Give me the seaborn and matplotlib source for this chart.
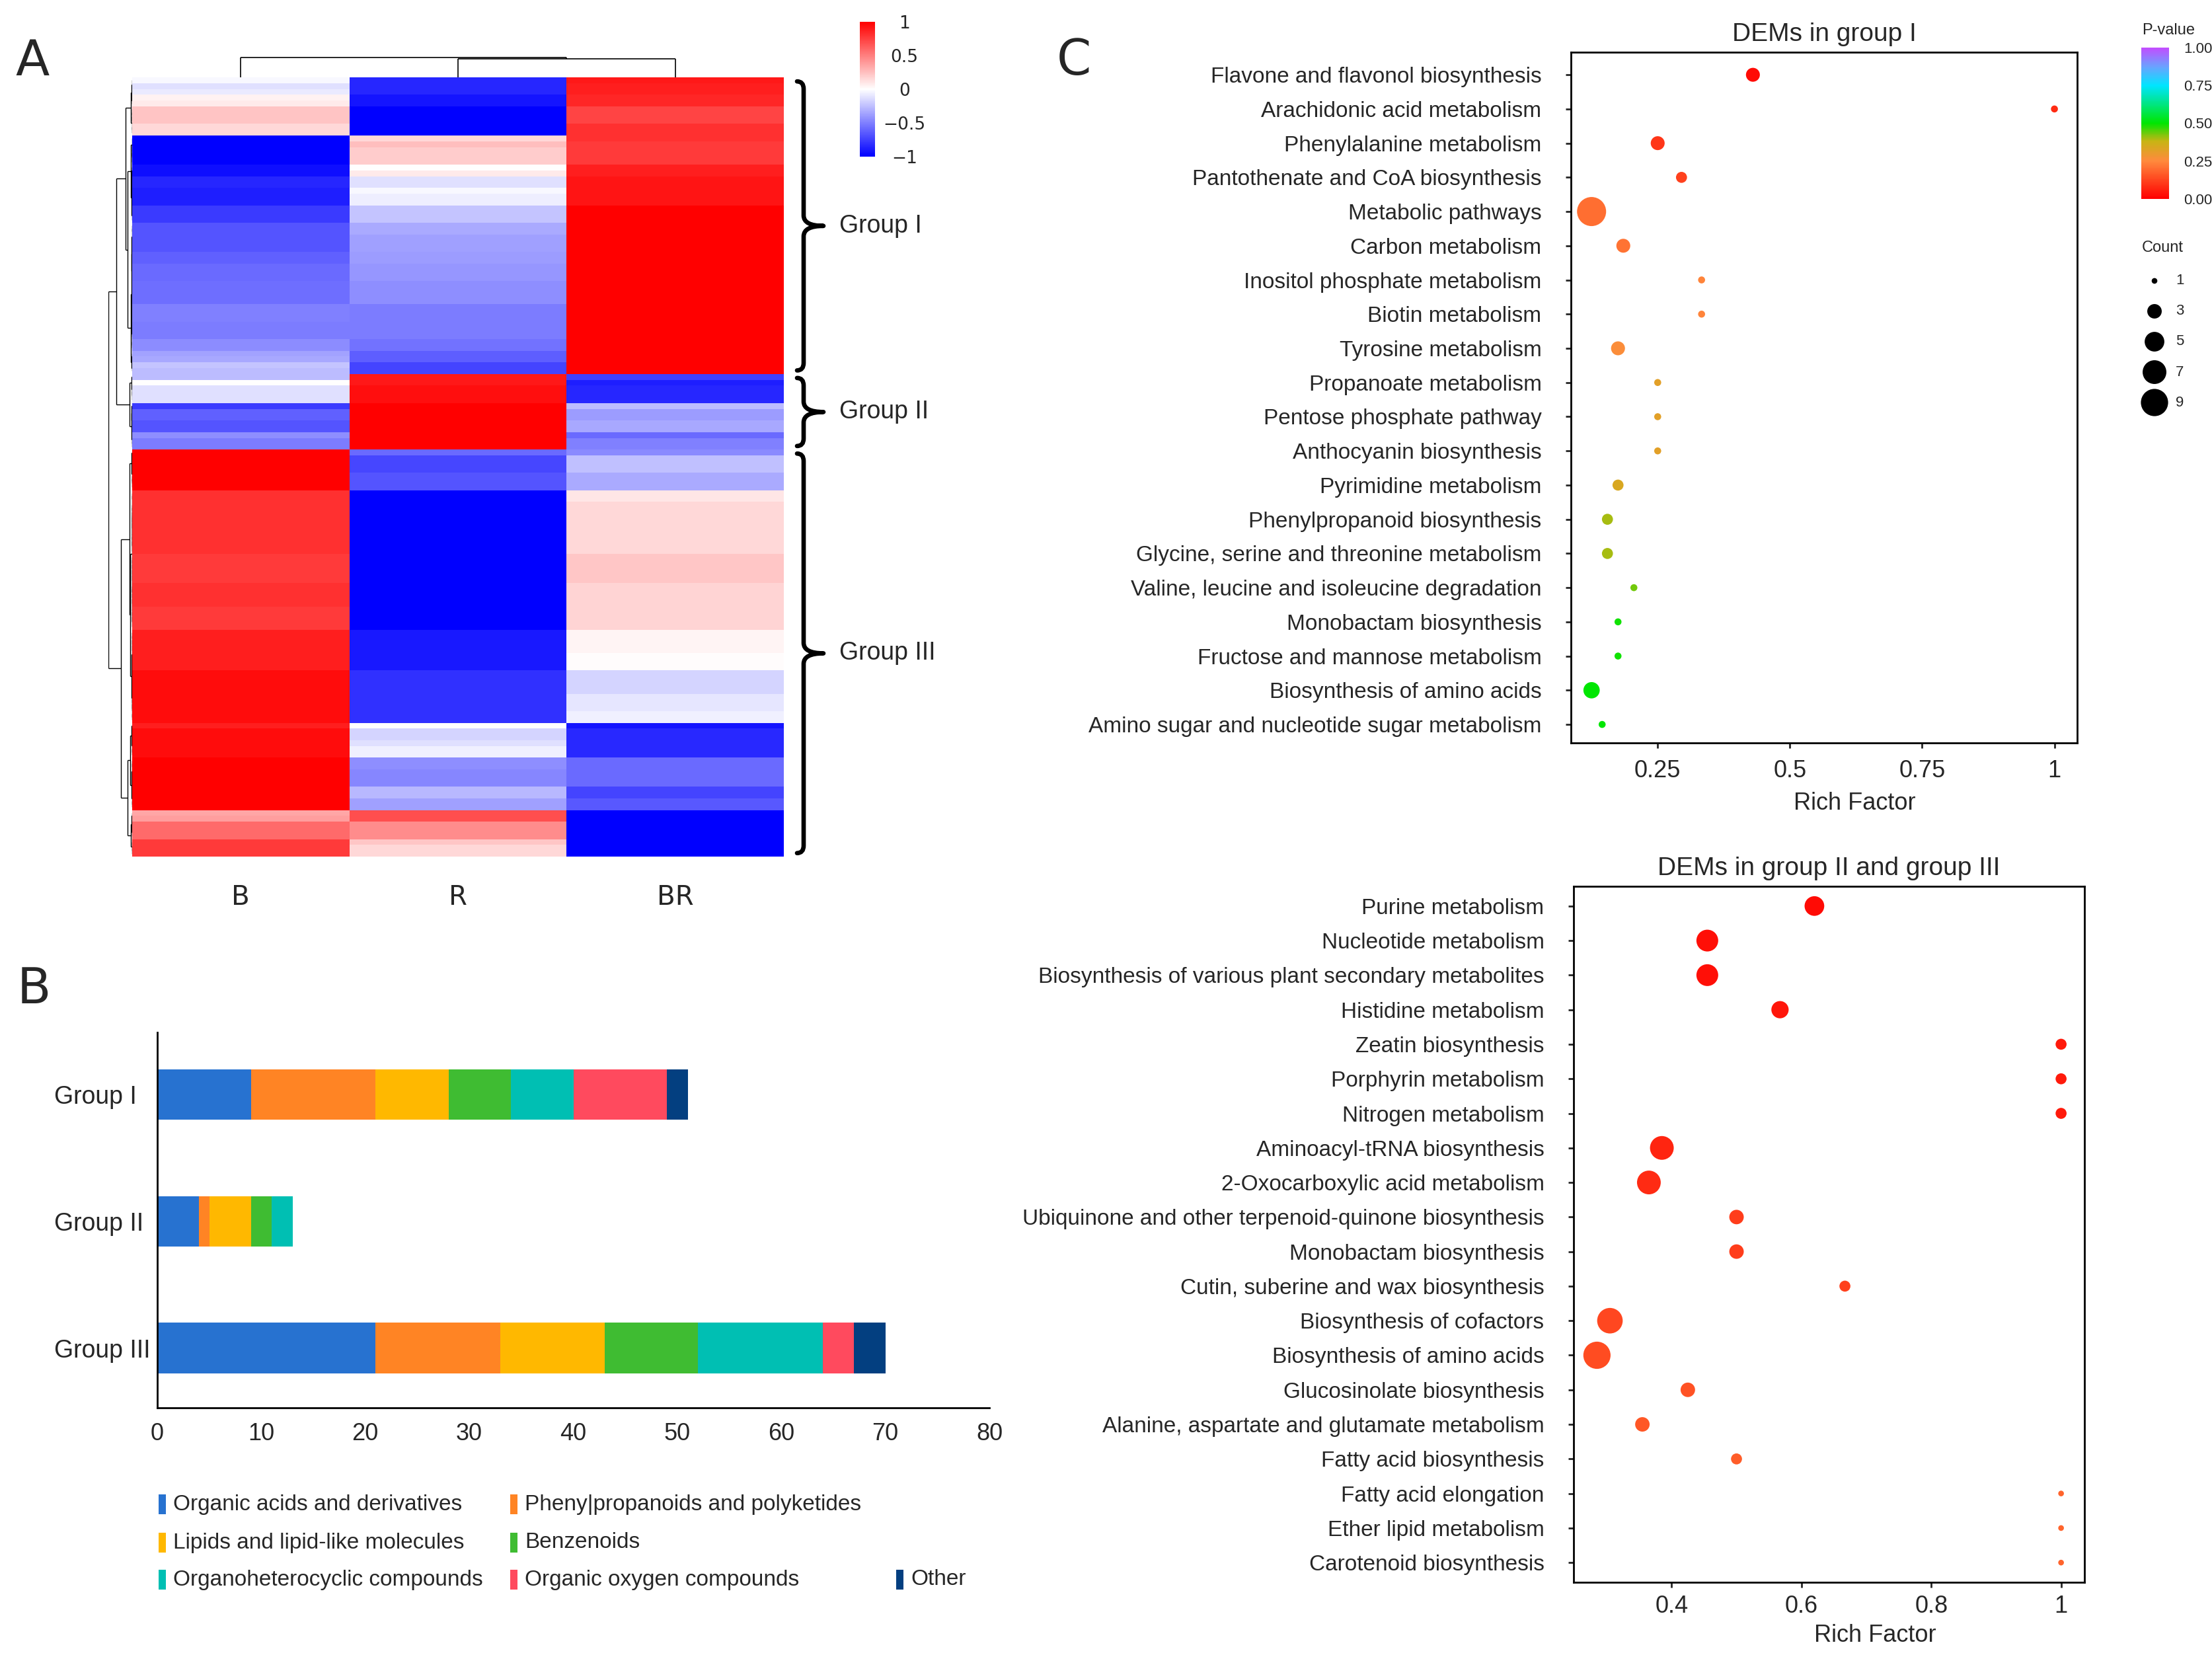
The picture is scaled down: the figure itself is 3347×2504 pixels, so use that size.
import numpy as np
import pandas as pd
import matplotlib
matplotlib.use("Agg")
import matplotlib.pyplot as plt
import seaborn as sns
from matplotlib.colors import LinearSegmentedColormap, Normalize
from matplotlib.cm import ScalarMappable
from matplotlib.collections import LineCollection
from matplotlib.patches import PathPatch, Rectangle
from matplotlib.path import Path

# ---- A: heatmap rows, top to bottom, run-length encoded per sample ----
samples = ["B", "R", "BR"]
heat_groups = ["Group I", "Group II", "Group III"]
heat_group_rows = [51, 13, 70]

b_vals = [-0.03, -0.12, -0.08, 0.05, 0.08, 0.23, 0.15, -1.0, -0.94, -0.85, -0.88, -0.77, -0.67, -0.62,
          -0.58, -0.57, -0.50, -0.51, -0.45, -0.36, -0.34, -0.23, -0.26, 0.0, -0.12, -0.77, -0.62, -0.67,
          -0.44, -0.51, 1.0, 0.81, 0.77, 0.81, 0.77, 0.88, 0.95, 0.88, 0.95, 1.0, 0.35, 0.38, 0.58, 0.77]
b_runs = [1, 1, 1, 1, 1, 3, 2, 5, 2, 2, 3, 3, 5, 2, 3, 4, 3, 3, 2, 1, 1, 1, 2, 1, 3, 1, 2, 2, 1, 2,
          7, 11, 5, 4, 4, 7, 9, 1, 5, 9, 1, 1, 3, 3]
r_vals = [-0.85, -0.92, -1.0, 0.15, 0.25, 0.20, 0.0, 0.08, -0.12, -0.03, -0.07, -0.23, -0.33, -0.37,
          -0.39, -0.41, -0.44, -0.51, -0.55, -0.63, -0.73, 0.90, 0.94, 1.0, -0.58, -0.72, -0.67, -1.0,
          -0.90, -0.81, 0.0, -0.17, -0.12, -0.06, -0.44, -0.47, -0.28, -0.37, 0.69, 0.45, 0.22, 0.15]
r_runs = [3, 2, 5, 1, 1, 3, 1, 1, 2, 1, 2, 3, 2, 3, 2, 3, 4, 6, 2, 2, 2, 2, 3, 8, 1, 3, 3, 24,
          7, 9, 1, 2, 1, 2, 2, 3, 2, 2, 2, 3, 1, 2]
br_vals = [0.90, 0.88, 0.85, 0.73, 0.81, 0.77, 0.88, 0.92, 1.0, -0.75, -0.88, -0.85, -0.26, -0.39,
           -0.34, -0.58, -0.50, -0.46, -0.25, -0.33, 0.10, 0.15, 0.22, 0.17, 0.04, 0.01, -0.17, -0.10,
           -0.06, -0.92, -0.84, -0.58, -0.73, -0.65, -1.0]
br_runs = [1, 2, 2, 3, 3, 4, 2, 5, 29, 1, 1, 3, 1, 2, 2, 1, 2, 1, 3, 3, 2, 9, 5, 8, 4, 3, 4, 3,
           2, 1, 5, 5, 2, 2, 8]

# ---- B: compound classes per group ----
bar_groups = ["Group I", "Group II", "Group III"]
class_names = ["Organic acids and derivatives", "Pheny|propanoids and polyketides",
               "Lipids and lipid-like molecules", "Benzenoids", "Organoheterocyclic compounds",
               "Organic oxygen compounds", "Other"]
class_colors = ["#2772D0", "#FF8424", "#FFB800", "#3FBC32", "#00BFB3", "#FF4A5E", "#033F80"]
organic_acids = [9, 4, 21]
phenylpropanoids = [12, 1, 12]
lipids = [7, 4, 10]
benzenoids = [6, 2, 9]
organoheterocyclic = [6, 2, 12]
organic_oxygen = [9, 0, 3]
other = [2, 0, 3]

# ---- C: KEGG enrichment ----
c1_pathways = ["Flavone and flavonol biosynthesis", "Arachidonic acid metabolism",
               "Phenylalanine metabolism", "Pantothenate and CoA biosynthesis", "Metabolic pathways",
               "Carbon metabolism", "Inositol phosphate metabolism", "Biotin metabolism",
               "Tyrosine metabolism", "Propanoate metabolism", "Pentose phosphate pathway",
               "Anthocyanin biosynthesis", "Pyrimidine metabolism", "Phenylpropanoid biosynthesis",
               "Glycine, serine and threonine metabolism", "Valine, leucine and isoleucine degradation",
               "Monobactam biosynthesis", "Fructose and mannose metabolism",
               "Biosynthesis of amino acids", "Amino sugar and nucleotide sugar metabolism"]
c1_rich = [0.43, 1.0, 0.25, 0.295, 0.125, 0.185, 0.333, 0.333, 0.175, 0.25, 0.25, 0.25, 0.175,
           0.155, 0.155, 0.205, 0.175, 0.175, 0.125, 0.145]
c1_count = [3, 1, 3, 2, 12, 3, 1, 1, 3, 1, 1, 1, 2, 2, 2, 1, 1, 1, 4, 1]
c1_pvalue = [0.02, 0.08, 0.10, 0.12, 0.20, 0.21, 0.24, 0.24, 0.26, 0.32, 0.32, 0.32, 0.34, 0.40,
             0.40, 0.43, 0.49, 0.49, 0.50, 0.50]

c2_pathways = ["Purine metabolism", "Nucleotide metabolism",
               "Biosynthesis of various plant secondary metabolites", "Histidine metabolism",
               "Zeatin biosynthesis", "Porphyrin metabolism", "Nitrogen metabolism",
               "Aminoacyl-tRNA biosynthesis", "2-Oxocarboxylic acid metabolism",
               "Ubiquinone and other terpenoid-quinone biosynthesis", "Monobactam biosynthesis",
               "Cutin, suberine and wax biosynthesis", "Biosynthesis of cofactors",
               "Biosynthesis of amino acids", "Glucosinolate biosynthesis",
               "Alanine, aspartate and glutamate metabolism", "Fatty acid biosynthesis",
               "Fatty acid elongation", "Ether lipid metabolism", "Carotenoid biosynthesis"]
c2_rich = [0.62, 0.455, 0.455, 0.567, 1.0, 1.0, 1.0, 0.385, 0.365, 0.5, 0.5, 0.667, 0.305, 0.285,
           0.425, 0.355, 0.5, 1.0, 1.0, 1.0]
c2_count = [5, 6, 6, 4, 2, 2, 2, 7, 7, 3, 3, 2, 8, 9, 3, 3, 2, 1, 1, 1]
c2_pvalue = [0.02, 0.03, 0.03, 0.04, 0.05, 0.05, 0.05, 0.07, 0.08, 0.11, 0.11, 0.12, 0.13, 0.14,
             0.15, 0.16, 0.17, 0.18, 0.18, 0.18]

legend_counts = [1, 3, 5, 7, 9]
pvalue_ticks = [0.0, 0.25, 0.5, 0.75, 1.0]

sns.set_style("white")
plt.rcParams["font.family"] = ["Liberation Sans", "DejaVu Sans"]

W, H = 3347, 2504
fig = plt.figure(figsize=(W / 200, H / 200), dpi=200)


def box(x0, y0, x1, y1):
    # pixel box on the canvas -> figure fraction rect
    return [x0 / W, 1 - y1 / H, (x1 - x0) / W, (y1 - y0) / H]


def adjacent_ward(mat):
    # ward-like agglomeration joining only neighbours, so leaf order stays as drawn
    nodes = [[i + 0.5, 0.0, np.asarray(row, float), 1] for i, row in enumerate(mat)]
    links = []
    while len(nodes) > 1:
        d = [np.sqrt(2 * a[3] * b[3] / (a[3] + b[3])) * np.linalg.norm(a[2] - b[2])
             for a, b in zip(nodes[:-1], nodes[1:])]
        k = int(np.argmin(d))
        a, b = nodes[k], nodes[k + 1]
        h = max(d[k], a[1], b[1])
        links.append((a[0], a[1], b[0], b[1], h))
        n = a[3] + b[3]
        nodes[k:k + 2] = [[(a[0] + b[0]) / 2, h, (a[2] * a[3] + b[2] * b[3]) / n, n]]
    return links


# ---------------- A ----------------
heat = pd.DataFrame({"B": np.repeat(b_vals, b_runs),
                     "R": np.repeat(r_vals, r_runs),
                     "BR": np.repeat(br_vals, br_runs)})[samples]
n_rows = len(heat)

ax_h = fig.add_axes(box(200, 117, 1186, 1296))
ax_cb = fig.add_axes(box(1301, 33, 1324, 237))
sns.heatmap(heat, ax=ax_h, cmap="bwr", vmin=-1, vmax=1, cbar_ax=ax_cb, yticklabels=False)
ax_h.tick_params(axis="x", length=0, pad=15, labelsize=14.5, labelrotation=0)
for t in ax_h.get_xticklabels():
    t.set_fontfamily("DejaVu Sans")
cbar = ax_h.collections[0].colorbar
cbar.set_ticks([1, 0.5, 0, -0.5, -1])
cbar.set_ticklabels(["1", "0.5", "0", "\u22120.5", "\u22121"])
cbar.outline.set_visible(False)
ax_cb.tick_params(length=0, pad=16, labelsize=9.5)
for t in ax_cb.get_yticklabels():
    t.set_ha("center")
    t.set_fontfamily("DejaVu Sans")

# row dendrogram
ax_rd = fig.add_axes(box(164, 117, 200, 1296))
row_links = adjacent_ward(heat.values)
segs = []
for pa, ha, pb, hb, h in row_links:
    segs += [[(ha, pa), (h, pa)], [(hb, pb), (h, pb)], [(h, pa), (h, pb)]]
ax_rd.add_collection(LineCollection(segs, colors="black", linewidths=0.5))
ax_rd.set_xlim(max(l[4] for l in row_links) * 1.01, 0)
ax_rd.set_ylim(n_rows, 0)
ax_rd.axis("off")

# column dendrogram
ax_cd = fig.add_axes(box(200, 86, 1186, 117))
col_links = adjacent_ward(heat.values.T)
segs = []
for pa, ha, pb, hb, h in col_links:
    segs += [[(pa, ha), (pa, h)], [(pb, hb), (pb, h)], [(pa, h), (pb, h)]]
ax_cd.add_collection(LineCollection(segs, colors="black", linewidths=0.6))
ax_cd.set_xlim(0, len(samples))
ax_cd.set_ylim(0, max(l[4] for l in col_links) * 1.02)
ax_cd.axis("off")

# braces with group names
ax_br = fig.add_axes(box(1190, 117, 1420, 1296))
ax_br.set_xlim(0, 230)
ax_br.set_ylim(n_rows, 0)
ax_br.axis("off")
edges = np.cumsum([0] + heat_group_rows)
for name, lo, hi in zip(heat_groups, edges[:-1], edges[1:]):
    y0, y1 = lo + 0.7, hi - 0.6
    mid = (y0 + y1) / 2
    re_ = min(1.3, (y1 - y0) / 8)
    rm = min(1.8, (y1 - y0) / 6)
    verts = [(16, y0), (26, y0), (26, y0 + re_), (26, mid - rm), (26, mid), (56, mid),
             (26, mid), (26, mid + rm), (26, y1 - re_), (26, y1), (16, y1)]
    codes = [Path.MOVETO, Path.CURVE3, Path.CURVE3, Path.LINETO, Path.CURVE3, Path.CURVE3,
             Path.CURVE3, Path.CURVE3, Path.LINETO, Path.CURVE3, Path.CURVE3]
    ax_br.add_patch(PathPatch(Path(verts, codes), fill=False, edgecolor="black", lw=2.4,
                              capstyle="round", joinstyle="round"))
    ax_br.text(80, mid, name, fontsize=13.5, va="center", ha="left")

# ---------------- B ----------------
comp = pd.DataFrame(dict(zip(class_names, [organic_acids, phenylpropanoids, lipids, benzenoids,
                                           organoheterocyclic, organic_oxygen, other])),
                    index=bar_groups)
cum = comp.cumsum(axis=1)
ax_b = fig.add_axes(box(238, 1562, 1497, 2130))
for name, colour in zip(class_names[::-1], class_colors[::-1]):
    sns.barplot(x=cum[name].values, y=bar_groups, color=colour, saturation=1, width=0.4,
                orient="h", errorbar=None, linewidth=0, ax=ax_b)
ax_b.set_xlim(0, 80)
ax_b.set_ylim(2.47, -0.49)
ax_b.set_xticks(range(0, 81, 10))
ax_b.set_yticks(range(len(bar_groups)))
ax_b.set_yticklabels(bar_groups)
ax_b.set_xlabel("")
ax_b.set_ylabel("")
sns.despine(ax=ax_b)
for s in ["left", "bottom"]:
    ax_b.spines[s].set_color("black")
    ax_b.spines[s].set_linewidth(1.0)
ax_b.tick_params(axis="x", length=0, pad=8, labelsize=13)
ax_b.tick_params(axis="y", length=0, pad=56, labelsize=13.5)
for t in ax_b.get_yticklabels():
    t.set_ha("left")

legend_cells = [(0, 0), (0, 1), (1, 0), (1, 1), (2, 0), (2, 1), (2, 2)]
col_x = [240, 772, 1356]
row_y = [2276, 2334, 2390]
for (r, c), name, colour in zip(legend_cells, class_names, class_colors):
    fig.add_artist(Rectangle((col_x[c] / W, 1 - (row_y[r] + 15) / H), 11 / W, 30 / H,
                             transform=fig.transFigure, facecolor=colour, lw=0))
    fig.text((col_x[c] + 22) / W, 1 - row_y[r] / H, name, fontsize=12, va="center")

# ---------------- C ----------------
pcmap = LinearSegmentedColormap.from_list(
    "pval", [(0.0, "#FF0000"), (0.25, "#FF8A3D"), (0.38, "#C8B414"), (0.5, "#00E600"),
             (0.75, "#00E5FF"), (0.87, "#66A6FF"), (1.0, "#C24DFF")])


def dot_panel(rect, names, rich, count, pval, title, xlim, ylim, xticks, xticklabels,
              sizes, size_norm, xlabel_x, xpad, labelpad):
    ax = fig.add_axes(rect)
    df = pd.DataFrame({"rich": rich, "pos": np.arange(len(names)), "count": count, "p": pval})
    sns.scatterplot(data=df, x="rich", y="pos", hue="p", size="count", palette=pcmap,
                    hue_norm=(0, 1), sizes=sizes, size_norm=size_norm, linewidth=0,
                    legend=False, ax=ax)
    ax.set_yticks(df["pos"])
    ax.set_yticklabels(names)
    ax.set_xticks(xticks)
    ax.set_xticklabels(xticklabels)
    ax.set_xlim(*xlim)
    ax.set_ylim(*ylim)
    ax.set_ylabel("")
    ax.set_xlabel("Rich Factor", fontsize=13, x=xlabel_x, labelpad=labelpad)
    ax.set_title(title, fontsize=14, pad=6)
    for s in ax.spines.values():
        s.set_color("black")
        s.set_linewidth(1.0)
        s.set_visible(True)
    ax.tick_params(axis="y", length=3, width=1, pad=13, labelsize=12, left=True)
    ax.tick_params(axis="x", length=3, width=1, pad=xpad, labelsize=13, bottom=True)
    return ax


dot_panel(box(2377, 79, 3143, 1124), c1_pathways, c1_rich, c1_count, c1_pvalue,
          "DEMs in group I", (0.086, 1.043), (19.54, -0.66), [0.25, 0.5, 0.75, 1],
          ["0.25", "0.5", "0.75", "1"], (14.5, 251), (1, 12), 0.56, 6, 5)
dot_panel(box(2381, 1341, 3154, 2394), c2_pathways, c2_rich, c2_count, c2_pvalue,
          "DEMs in group II and group III", (0.249, 1.036), (19.57, -0.57), [0.4, 0.6, 0.8, 1],
          ["0.4", "0.6", "0.8", "1"], (9.6, 220), (1, 9), 0.59, 4, 3)

# P-value colour bar
ax_p = fig.add_axes(box(3240, 72, 3282, 301))
pbar = fig.colorbar(ScalarMappable(norm=Normalize(0, 1), cmap=pcmap), cax=ax_p)
pbar.set_ticks(pvalue_ticks)
pbar.set_ticklabels(["%.2f" % v for v in pvalue_ticks])
pbar.outline.set_visible(False)
ax_p.tick_params(axis="y", direction="in", color="white", length=3, width=0.8, left=True,
                 right=True, labelsize=8, pad=8)
fig.text(3241 / W, 1 - 46 / H, "P-value", fontsize=8.5, ha="left", va="center")

# Count size key
fig.text(3241 / W, 1 - 375 / H, "Count", fontsize=8.5, ha="left", va="center")
ax_k = fig.add_axes(box(3230, 400, 3347, 635))
sns.scatterplot(x=np.full(len(legend_counts), 30.0), y=np.arange(len(legend_counts)),
                size=legend_counts, sizes=(9.6, 220), size_norm=(1, 9), color="black",
                linewidth=0, legend=False, ax=ax_k)
for i, c in enumerate(legend_counts):
    ax_k.text(62, i, str(c), fontsize=8, va="center", ha="left")
ax_k.set_xlim(0, 117)
ax_k.set_ylim(4.565, -0.543)
ax_k.axis("off")

# panel letters
fig.text(49 / W, 1 - 93 / H, "A", fontsize=27, ha="center", va="center", family="DejaVu Sans")
fig.text(51 / W, 1 - 1497 / H, "B", fontsize=27, ha="center", va="center", family="DejaVu Sans")
fig.text(1625 / W, 1 - 93 / H, "C", fontsize=27, ha="center", va="center", family="DejaVu Sans")

fig.savefig("out.png", dpi=200)
